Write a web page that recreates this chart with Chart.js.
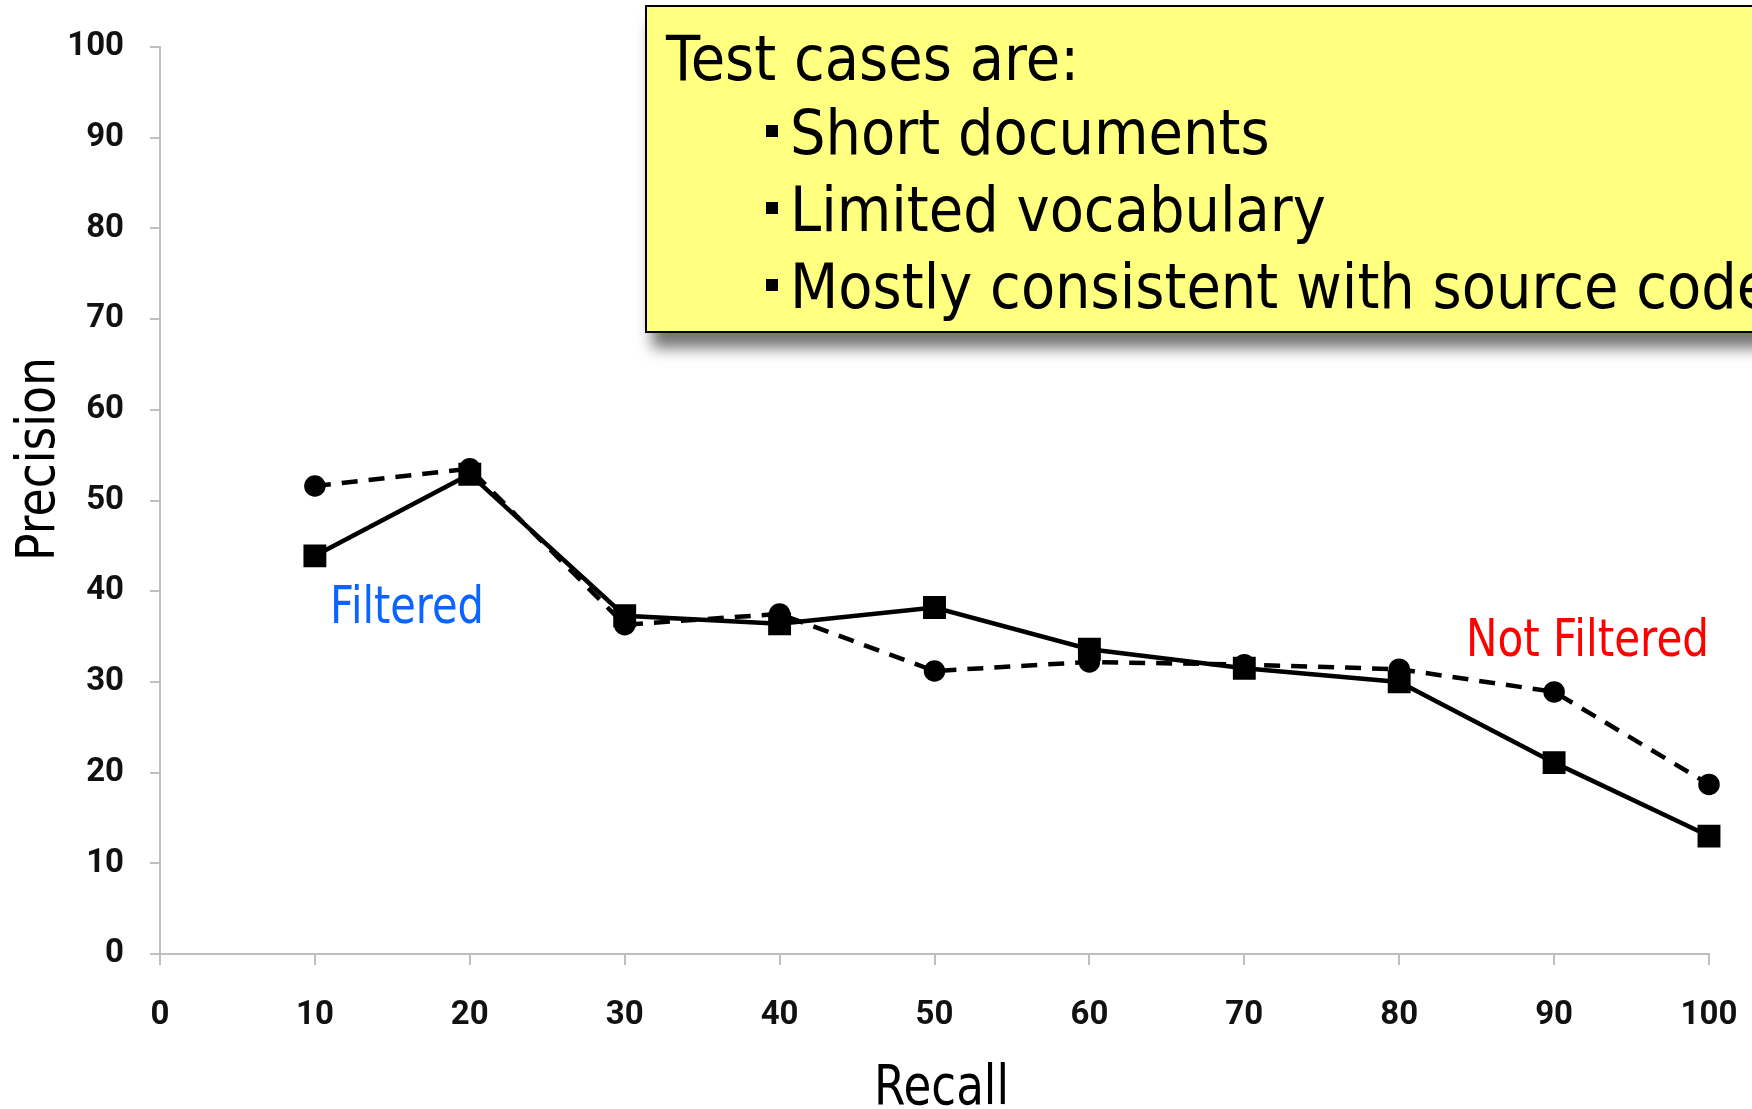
<!DOCTYPE html>
<html>
<head>
<meta charset="utf-8">
<script src="https://cdn.jsdelivr.net/npm/chart.js@4"></script>
<style>
  html, body { margin: 0; padding: 0; background: #fff; }
  #chart { display: block; }
</style>
</head>
<body>
<canvas id="chart" width="1752" height="1109"></canvas>
<script>
// recall levels (x) and precision for each run
const recall = [10, 20, 30, 40, 50, 60, 70, 80, 90, 100];
const filtered = [43.9, 52.9, 37.3, 36.4, 38.2, 33.6, 31.5, 30.0, 21.1, 13.0];
const notFiltered = [51.6, 53.5, 36.3, 37.5, 31.2, 32.2, 31.9, 31.4, 28.9, 18.7];

const xTitle = 'Recall';
const yTitle = 'Precision';
const seriesLabels = ['Filtered', 'Not Filtered'];
const boxTitle = 'Test cases are:';
const boxItems = ['Short documents', 'Limited vocabulary', 'Mostly consistent with source code'];

function toPoints(ys) {
    return recall.map((r, i) => ({ x: r, y: ys[i] }));
}

// draws text squeezed horizontally to a given width (the slide font is condensed)
function squeezeText(ctx, text, x, y, size, width, color, rotate) {
    ctx.save();
    ctx.font = size + 'px "DejaVu Sans"';
    ctx.fillStyle = color;
    ctx.textBaseline = 'alphabetic';
    const w = ctx.measureText(text).width;
    ctx.translate(x, y);
    if (rotate) {
        ctx.rotate(-Math.PI / 2);
        ctx.textAlign = 'center';
    } else {
        ctx.textAlign = 'left';
    }
    ctx.scale(width / w, 1);
    ctx.fillText(text, 0, 0);
    ctx.restore();
}

const annotations = {
    id: 'annotations',
    afterDraw(chart) {
        const ctx = chart.ctx;

        // axis titles
        squeezeText(ctx, yTitle, 54, 459, 54, 204, '#000', true);
        squeezeText(ctx, xTitle, 874, 1104, 56, 135, '#000', false);

        // series labels
        squeezeText(ctx, seriesLabels[0], 330, 623, 52, 154, '#0a64ff', false);
        squeezeText(ctx, seriesLabels[1], 1466, 656, 52, 243, '#ff0000', false);

        // yellow call-out box with a drop shadow
        ctx.save();
        ctx.shadowColor = 'rgba(0,0,0,0.55)';
        ctx.shadowBlur = 14;
        ctx.shadowOffsetX = 6;
        ctx.shadowOffsetY = 16;
        ctx.fillStyle = '#ffff80';
        ctx.fillRect(646, 6, 1130, 326);
        ctx.restore();
        ctx.save();
        ctx.strokeStyle = '#000';
        ctx.lineWidth = 2;
        ctx.strokeRect(646, 6, 1130, 326);
        ctx.restore();

        ctx.save();
        ctx.font = '63px "DejaVu Sans"';
        const sx = 413 / ctx.measureText(boxTitle).width;
        ctx.restore();
        ctx.save();
        ctx.font = '63px "DejaVu Sans"';
        ctx.fillStyle = '#000';
        ctx.textBaseline = 'alphabetic';
        ctx.translate(666, 80);
        ctx.scale(sx, 1);
        ctx.fillText(boxTitle, 0, 0);
        ctx.restore();

        const baselines = [154, 231, 308];
        boxItems.forEach((t, i) => {
            ctx.fillStyle = '#000';
            ctx.fillRect(766, baselines[i] - 29, 12, 12);
            ctx.save();
            ctx.font = '63px "DejaVu Sans"';
            ctx.textBaseline = 'alphabetic';
            ctx.translate(790, baselines[i]);
            ctx.scale(sx, 1);
            ctx.fillText(t, 0, 0);
            ctx.restore();
        });
    }
};

const axisColor = '#bfbfbf';
const tickFont = { family: 'Roboto', size: 33, weight: 'bold' };

new Chart(document.getElementById('chart').getContext('2d'), {
    type: 'line',
    data: {
        datasets: [{
            label: seriesLabels[0],
            data: toPoints(filtered),
            borderColor: '#000',
            backgroundColor: '#000',
            borderWidth: 4.5,
            pointStyle: 'rect',
            pointRadius: 13,
            pointHoverRadius: 13,
            tension: 0,
            clip: false
        }, {
            label: seriesLabels[1],
            data: toPoints(notFiltered),
            borderColor: '#000',
            backgroundColor: '#000',
            borderWidth: 4.5,
            borderDash: [16, 11],
            pointStyle: 'circle',
            pointRadius: 8.5,
            pointHoverRadius: 8.5,
            tension: 0,
            clip: false
        }]
    },
    options: {
        responsive: false,
        animation: false,
        layout: { padding: { top: 47, right: 43, left: 0, bottom: 0 } },
        plugins: {
            legend: { display: false },
            tooltip: { enabled: false }
        },
        scales: {
            x: {
                type: 'linear',
                min: 0,
                max: 100,
                ticks: { stepSize: 10, color: '#111', font: tickFont, padding: 31 },
                grid: { drawOnChartArea: false, color: axisColor, lineWidth: 2, tickLength: 11 },
                border: { color: axisColor, width: 2 },
                afterFit(scale) {
                    scale.height = 155;
                    scale.paddingLeft = 0;
                    scale.paddingRight = 0;
                }
            },
            y: {
                min: 0,
                max: 100,
                ticks: { stepSize: 10, color: '#111', font: tickFont, padding: 26 },
                grid: { drawOnChartArea: false, color: axisColor, lineWidth: 2, tickLength: 10 },
                border: { color: axisColor, width: 2 },
                afterFit(scale) {
                    scale.width = 160;
                    scale.paddingTop = 0;
                    scale.paddingBottom = 0;
                }
            }
        }
    },
    plugins: [annotations]
});
</script>
</body>
</html>
